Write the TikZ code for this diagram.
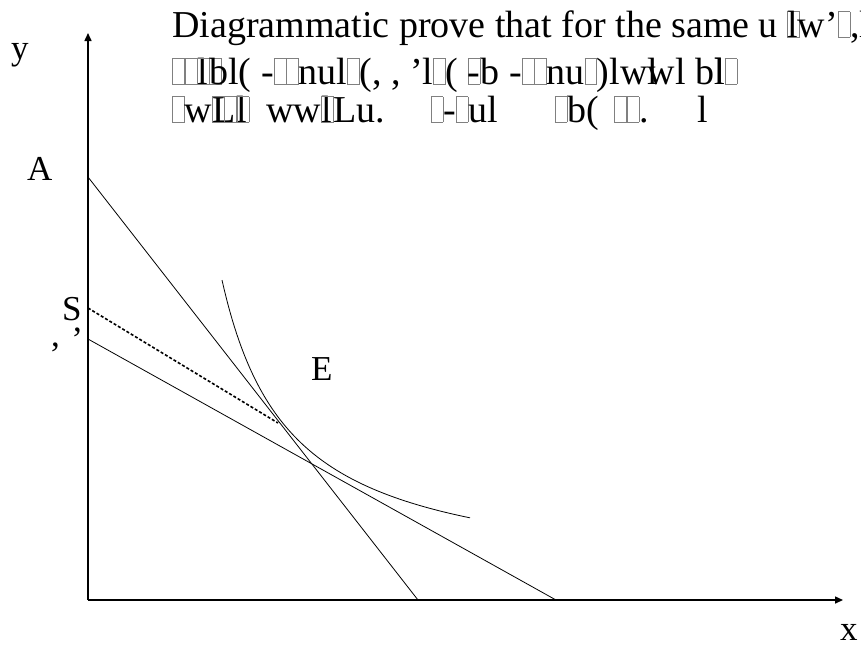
\documentclass[tikz,border=0pt]{standalone}
\usepackage{fontspec}
\setmainfont{Liberation Serif}
\usetikzlibrary{arrows.meta}
\newcommand\bx{{\color{gray}\fboxsep0pt\fboxrule0.5pt\fbox{\vrule width0pt height0.66em depth0pt\hspace{0.3em}}}}
\newcommand\ovl[1]{\rlap{#1}}
\tikzset{
  axisline/.style={line width=1.5pt,-{Triangle[length=8pt,width=7pt]}},
  budget/.style={line width=0.8pt},
  shifted/.style={line width=1.6pt,dash pattern=on 3pt off 2pt},
  icurve/.style={line width=0.8pt},
  lbl/.style={inner sep=0pt,anchor=base west,font=\fontsize{35}{38}\selectfont},
  ttl/.style={inner sep=0pt,anchor=base west,font=\fontsize{38}{40}\selectfont},
}
\begin{document}
\begin{tikzpicture}[x=1pt,y=-1pt]
\useasboundingbox (0,0) rectangle (861,646);
% axes
\coordinate (O) at (88,600);
\coordinate (Ytip) at (88,33);
\coordinate (Xtip) at (843,600);
\draw[axisline] (O) -- (Ytip);
\draw[axisline] (O) -- (Xtip);
% budget lines
\coordinate (A0) at (88,177);
\coordinate (A1) at (418,600);
\coordinate (L0) at (88,339);
\coordinate (L1) at (556,600);
\coordinate (S0) at (88,308);
\coordinate (S1) at (278,423);
\draw[budget] (A0) -- (A1);
\draw[budget] (L0) -- (L1);
\draw[shifted] (S0) -- (S1);
% indifference curve
\draw[icurve] plot[domain=222:470,samples=120] (\x,{583-206/((\x-154)/100)});
% labels
\node[lbl] (ly) at (11,59) {y};
\node[lbl] (lx) at (840,640) {x};
\node[lbl] (lA) at (27,180) {A};
\node[lbl] (lS) at (62,320) {S};
\node[lbl] (lc1) at (73,331) {,};
\node[lbl] (lc2) at (51,346) {,};
\node[lbl] (lE) at (311,380) {E};
% title (as printed, with missing glyphs)
\node[ttl] (t1) at (172,37) {Diagrammatic prove that for the same u \ovl{\bx}lw’\bx,l};
\node[ttl] (t2) at (172,84) {\bx\bx\ovl{l}\bx\ovl{\bx}bl( -\bx\bx nul\bx(, , ’l\bx( \ovl{\bx}-b -\bx\bx nu\bx)lw\ovl{l}wl b\ovl{l}l\bx};
\node[ttl] (t3) at (172,122) {\bx w\ovl{L}\bx\bx\ovl{l}\bx\hspace{0.2em} ww\ovl{l}\bx Lu.\hspace{1.2em}\bx-\bx ul\hspace{1.5em}\bx b(\hspace{0.4em}\bx\bx.\hspace{1.3em}l};
\end{tikzpicture}
\end{document}
